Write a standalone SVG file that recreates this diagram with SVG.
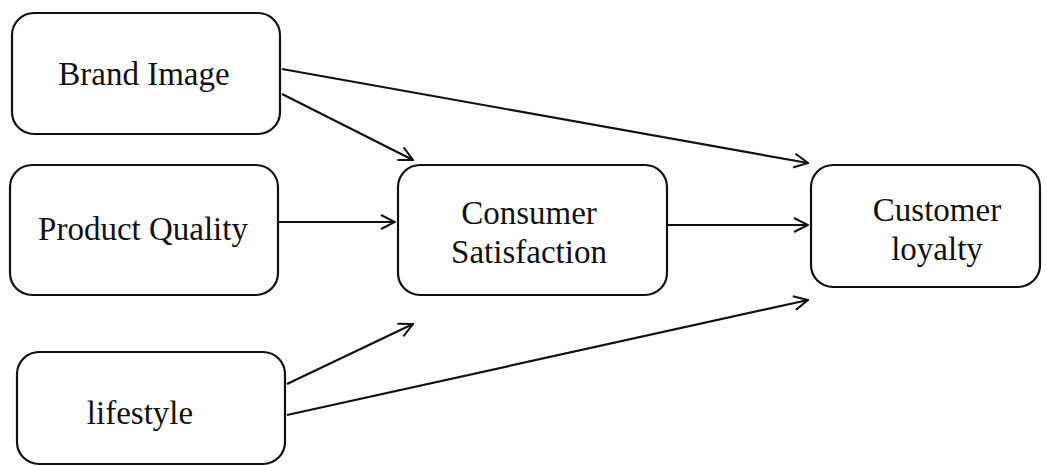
<svg xmlns="http://www.w3.org/2000/svg" width="1047" height="466" viewBox="0 0 1047 466">
<style>
.box{fill:#fff;stroke:#111;stroke-width:2.2}
.lbl{font-family:"Liberation Serif","Times New Roman",serif;font-size:33px;fill:#111;text-anchor:middle}
.edge{fill:none;stroke:#111;stroke-width:2.2}
</style>
<defs>
<marker id="arr" viewBox="0 0 16 16" refX="15" refY="8" markerWidth="16" markerHeight="16" markerUnits="userSpaceOnUse" orient="auto">
<path d="M1,1 L15,8 L1,15" fill="none" stroke="#111" stroke-width="2"/>
</marker>
</defs>
<rect width="1047" height="466" fill="#fff"/>
<g id="connectors">
<line class="edge" x1="282" y1="69" x2="808" y2="163" marker-end="url(#arr)"/>
<line class="edge" x1="282" y1="94" x2="413" y2="160" marker-end="url(#arr)"/>
<line class="edge" x1="279" y1="222" x2="395" y2="222" marker-end="url(#arr)"/>
<line class="edge" x1="668" y1="225" x2="808" y2="225" marker-end="url(#arr)"/>
<line class="edge" x1="287" y1="384" x2="413" y2="324" marker-end="url(#arr)"/>
<line class="edge" x1="287" y1="415" x2="808" y2="300" marker-end="url(#arr)"/>
</g>
<g id="brand-image">
<rect class="box" x="12" y="13" width="268" height="121" rx="22"/>
<text class="lbl" x="144" y="85">Brand Image</text>
</g>
<g id="product-quality">
<rect class="box" x="10" y="165" width="268" height="130" rx="22"/>
<text class="lbl" x="143" y="240">Product Quality</text>
</g>
<g id="lifestyle">
<rect class="box" x="17" y="352" width="268" height="112" rx="22"/>
<text class="lbl" x="140" y="424">lifestyle</text>
</g>
<g id="consumer-satisfaction">
<rect class="box" x="398" y="165" width="269" height="130" rx="22"/>
<text class="lbl" x="529" y="224">Consumer</text>
<text class="lbl" x="529" y="263">Satisfaction</text>
</g>
<g id="customer-loyalty">
<rect class="box" x="811" y="165" width="229" height="122" rx="22"/>
<text class="lbl" x="937" y="221">Customer</text>
<text class="lbl" x="937" y="260">loyalty</text>
</g>
</svg>
